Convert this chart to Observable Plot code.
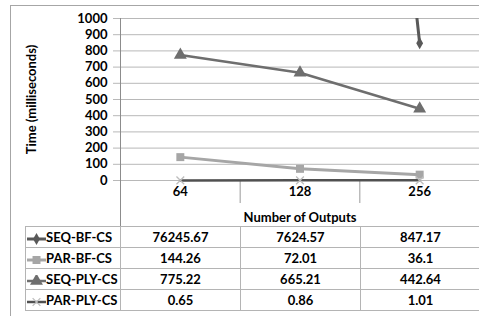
<!DOCTYPE html>
<html><head><meta charset="utf-8">
<script src="https://cdn.jsdelivr.net/npm/d3@7"></script>
<script src="https://cdn.jsdelivr.net/npm/@observablehq/plot@0.6"></script>
<style>
body{margin:0;background:#fff;font-family:Lato,"Open Sans",sans-serif;}
#wrap{position:relative;width:479px;height:316px;overflow:hidden;}
#chart svg{display:block;}
#border{position:absolute;left:10px;top:5px;width:480px;height:320px;border-left:1px solid #a6a6a6;border-top:1px solid #a6a6a6;pointer-events:none;}
table{position:absolute;left:25px;top:226px;border-collapse:collapse;table-layout:fixed;width:455px;font-weight:bold;font-size:13px;color:#000;}
td{border:1px solid #b4b4b4;height:20px;padding:0;text-align:center;line-height:20px;white-space:nowrap;}
td.leg{text-align:left;padding-left:1px;}
td.leg svg{vertical-align:middle;margin-right:0px;}
</style></head><body>
<div id="wrap"><div id="chart"></div><table id="tbl"></table><div id="border"></div></div>
<script>
const categories = ["64", "128", "256"];
const seriesNames = ["SEQ-BF-CS", "PAR-BF-CS", "SEQ-PLY-CS", "PAR-PLY-CS"];
const seqBfCs = [76245.67, 7624.57, 847.17];
const parBfCs = [144.26, 72.01, 36.1];
const seqPlyCs = [775.22, 665.21, 442.64];
const parPlyCs = [0.65, 0.86, 1.01];
const tableLabels = [["76245.67", "7624.57", "847.17"], ["144.26", "72.01", "36.1"], ["775.22", "665.21", "442.64"], ["0.65", "0.86", "1.01"]];
const yTicks = d3.range(0, 1001, 100);

const styles = [
  {line: "#595959", width: 3, symbol: "diamond", fill: "#595959", r: 3.6, clip: true},
  {line: "#a6a6a6", width: 3, symbol: "square", fill: "#a6a6a6", r: 4.5, clip: false},
  {line: "#6e6e6e", width: 2.5, symbol: "triangle", fill: "#6e6e6e", r: 4.8, clip: false},
  {line: "#505050", width: 2.5, symbol: "times", fill: "#bdbdbd", r: 3.6, clip: false}
];
const allValues = [seqBfCs, parBfCs, seqPlyCs, parPlyCs];
const series = seriesNames.map((name, k) => ({name, values: allValues[k], ...styles[k]}));
const rows = series.map(s => s.values.map((v, i) => ({series: s.name, xi: i + 0.5, v})));

const marks = [
  Plot.gridY(yTicks, {stroke: "#b8b8b8", strokeOpacity: 1}),
  Plot.axisY(yTicks, {tickSize: 7, tickPadding: 6, stroke: "#b8b8b8", fill: "#000", tickFormat: d => String(d),
    label: "Time (milliseconds)", labelAnchor: "center", labelOffset: 94, labelArrow: "none"}),
  Plot.ruleY([0], {stroke: "#b8b8b8"}),
  Plot.axisX([0], {tickSize: 46, tickFormat: () => "", stroke: "#8c8c8c", label: null}),
  Plot.axisX([1, 2, 3], {tickSize: 23, tickFormat: () => "", stroke: "#9a9a9a", label: null}),
  Plot.axisX(categories.map((c, i) => i + 0.5), {tickSize: 0, tickPadding: 6, fill: "#000",
    tickFormat: d => categories[Math.floor(d)], label: "Number of Outputs", labelAnchor: "center", labelOffset: 41, labelArrow: "none"}),
  Plot.ruleX([0], {stroke: "#8c8c8c"})
];
series.forEach((s, k) => {
  marks.push(Plot.line(rows[k], {x: "xi", y: "v", stroke: s.line, strokeWidth: s.width, clip: s.clip}));
  marks.push(Plot.dot(rows[k], {x: "xi", y: "v", symbol: () => s.symbol, r: s.r,
    fill: s.symbol === "times" ? "none" : s.fill, stroke: s.symbol === "times" ? s.fill : "none", strokeWidth: 1.3, clip: s.clip}));
});

const chart = Plot.plot({
  width: 479, height: 226,
  marginLeft: 120, marginRight: 0, marginTop: 18, marginBottom: 46,
  x: {domain: [0, 3], axis: null},
  y: {domain: [0, 1000], axis: null},
  style: {fontFamily: "Lato, 'Open Sans', sans-serif", fontWeight: "bold", fontSize: "13px", color: "#000", background: "transparent"},
  marks
});
document.getElementById("chart").appendChild(chart);

// data table with legend keys
const tbl = d3.select("#tbl");
const cg = tbl.append("colgroup");
[95, 120, 120, 120].forEach(w => cg.append("col").style("width", w + "px"));
series.forEach((s, k) => {
  const tr = tbl.append("tr");
  const td = tr.append("td").attr("class", "leg");
  const svg = td.append("svg").attr("width", 19).attr("height", 12);
  svg.append("line").attr("x1", 0).attr("x2", 19).attr("y1", 6).attr("y2", 6)
    .attr("stroke", s.line).attr("stroke-width", s.width);
  const sym = {diamond: d3.symbolDiamond, square: d3.symbolSquare, triangle: d3.symbolTriangle, times: d3.symbolTimes}[s.symbol];
  const path = svg.append("path").attr("transform", "translate(9.5,6)")
    .attr("d", d3.symbol(sym, s.r * s.r * Math.PI)());
  if (s.symbol === "times") path.attr("fill", "none").attr("stroke", s.fill).attr("stroke-width", 1.3);
  else path.attr("fill", s.fill);
  td.append("span").text(s.name);
  tableLabels[k].forEach(t => tr.append("td").text(t));
});
</script>
</body></html>
